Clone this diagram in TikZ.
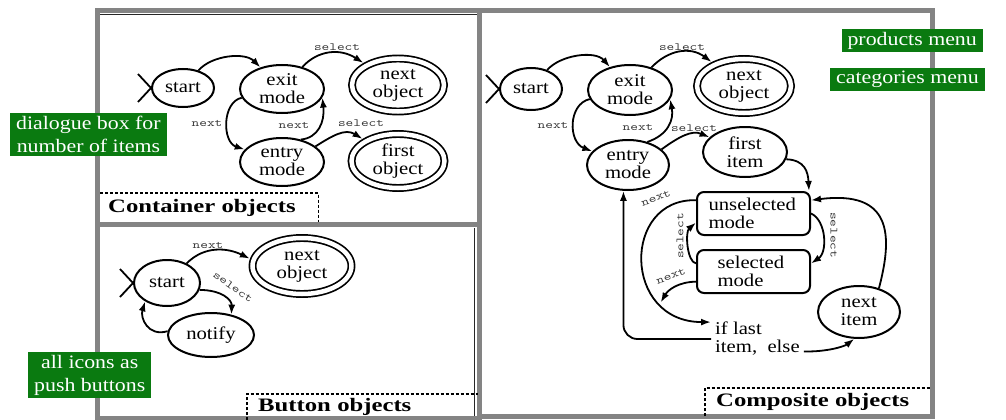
\documentclass[tikz,border=0pt]{standalone}
\usepackage{fontspec}
\usepackage{graphicx}
\setmainfont[FakeStretch=1.15]{Liberation Serif}
\newfontfamily\tagfont[FakeStretch=1.3]{Liberation Serif}
\usetikzlibrary{arrows.meta,shapes.geometric,backgrounds}

\definecolor{tagGreen}{RGB}{10,122,16}
\definecolor{frameGray}{RGB}{132,132,132}

% small typewriter transition labels, widened
\newcommand\edgelbl[1]{{\ttfamily\fontsize{11}{11}\selectfont\scalebox{1.35}[1]{#1}}}

\tikzset{
  every node/.style={font=\fontsize{18}{18}\selectfont},
  state/.style={ellipse, draw, line width=2pt, fill=white, inner sep=0pt, align=center},
  final/.style={ellipse, draw, line width=1.7pt, double, double distance=4.5pt,
                fill=white, inner sep=0pt, outer sep=4pt, align=center},
  modebox/.style={rectangle, rounded corners=7pt, draw, line width=2pt, fill=white,
                  inner sep=0pt, align=left},
  edge/.style={line width=1.8pt, -{Latex[length=10pt,width=7pt]}},
  lbl/.style={inner sep=0pt, text=black!80},
  frame/.style={draw=frameGray, line width=5pt},
  inner/.style={draw=black!85, line width=1.2pt},
  tag/.style={fill=tagGreen, text=white, inner xsep=6pt, inner ysep=3pt, align=center,
              font=\fontsize{19}{23}\selectfont},
  caption/.style={anchor=north west, inner ysep=0pt, align=left,
                  font=\tagfont\bfseries\fontsize{19}{19}\selectfont},
  capline/.style={line width=1.6pt, dash pattern=on 3pt off 2pt},
  xmark/.style={line width=1.8pt},
}

\begin{document}
\begin{tikzpicture}[x=1pt,y=-1pt]
\useasboundingbox (0,0) rectangle (1006,420);

% panel frames
\draw[frame] (97,10.5) rectangle (479.5,224.5);
\draw[frame] (97,224.5) rectangle (479.5,418.5);
\draw[frame] (479.5,10.5) rectangle (932.5,416);
\draw[inner] (100,14.5) -- (477,14.5);
\draw[inner] (474.5,228) -- (474.5,416);

% panel captions with dashed corners
\node[caption, text width=202pt, minimum height=29pt, inner xsep=8pt] (c-cap) at (100,193) {Container objects};
\draw[capline] (c-cap.north west) -- (c-cap.north east) -- (c-cap.south east);
\node[caption, text width=209pt, minimum height=26pt, inner xsep=11pt] (b-cap) at (247,394) {\raisebox{-2.5pt}{Button objects}};
\draw[capline] (b-cap.south west) -- (b-cap.north west) -- (b-cap.north east);
\node[caption, text width=203pt, minimum height=28pt, inner xsep=11pt] (m-cap) at (705,388) {\raisebox{3pt}{Composite objects}};
\draw[capline] (m-cap.south west) -- (m-cap.north west) -- (m-cap.north east);

% ---------- container objects ----------
\node[state, minimum width=62pt, minimum height=38pt] (c-start) at (183,88) {start};
\node[state, minimum width=84pt, minimum height=48pt] (c-exit) at (282,89) {exit\\mode};
\node[state, minimum width=84pt, minimum height=48pt] (c-entry) at (282,162) {entry\\mode};
\node[final, minimum width=92pt, minimum height=53pt] (c-next) at (398,85) {next\\object};
\node[final, minimum width=93pt, minimum height=54pt] (c-first) at (398,161) {first\\object};

\draw[edge] (c-start) .. controls (212,55) and (245,52) .. (c-exit);
\draw[edge] (c-exit) .. controls (318,50) and (340,48) .. (c-next);
\draw[edge] (c-exit) .. controls (222,102) and (222,142) .. (c-entry);
\draw[edge] (c-entry.50) .. controls (318,138) and (325,122) .. (c-exit.-12);
\draw[edge] (c-entry.25) .. controls (332,136) and (345,128) .. (c-first);

\node[lbl] (c-l1) at (337,47) {\edgelbl{select}};
\node[lbl] (c-l2) at (207,123) {\edgelbl{next}};
\node[lbl] (c-l3) at (294,125) {\edgelbl{next}};
\node[lbl] (c-l4) at (361,123) {\edgelbl{select}};

% ---------- button objects ----------
\node[state, minimum width=66pt, minimum height=46pt] (b-start) at (167,283) {start};
\node[final, minimum width=99pt, minimum height=56pt] (b-next) at (302,266) {next\\object};
\node[state, minimum width=86pt, minimum height=44pt] (b-notify) at (211,335) {notify};

\draw[edge] (b-start) .. controls (205,245) and (228,248) .. (b-next.172);
\draw[edge] (b-start.-12) .. controls (222,290) and (232,300) .. (b-notify.45);
\draw[edge] (b-notify.175) .. controls (148,337) and (140,318) .. (b-start.-140);

\node[lbl] (b-l1) at (208,245) {\edgelbl{next}};
\node[lbl, rotate=-35] (b-l2) at (233,287) {\edgelbl{select}};

% ---------- composite objects ----------
\node[state, minimum width=62pt, minimum height=42pt] (m-start) at (531,89) {start};
\node[state, minimum width=84pt, minimum height=50pt] (m-exit) at (630,90) {exit\\mode};
\node[final, minimum width=94pt, minimum height=54pt] (m-next) at (744,86) {next\\object};
\node[state, minimum width=82pt, minimum height=50pt] (m-entry) at (628,165) {entry\\mode};
\node[state, minimum width=84pt, minimum height=50pt] (m-first) at (745,152) {first\\item};
\node[modebox, minimum width=113pt, minimum height=43pt, text width=90pt] (m-unsel) at (753.5,213.5) {unselected\\mode};
\node[modebox, minimum width=113pt, minimum height=43pt, text width=72pt] (m-sel) at (753.5,271.5) {selected\\mode};
\node[state, minimum width=82pt, minimum height=52pt] (m-item) at (859,312) {next\\item};
\node[anchor=west, align=left, inner sep=4pt] (m-last) at (711,339) {if last\\item,~~else};
\coordinate (m-join) at (660.7,302.5);

\draw[edge] (m-start) .. controls (560,55) and (595,50) .. (m-exit);
\draw[edge] (m-exit) .. controls (668,50) and (690,46) .. (m-next);
\draw[edge] (m-exit) .. controls (568,104) and (568,142) .. (m-entry);
\draw[edge] (m-entry.50) .. controls (668,135) and (674,120) .. (m-exit.-13);
\draw[edge] (m-entry.25) .. controls (680,136) and (692,130) .. (m-first);
\draw[edge] (m-first.-10) .. controls (805,160) and (808,172) .. ([xshift=-2pt]m-unsel.north east);
\draw[edge] (m-unsel.east) .. controls (826,220) and (828,252) .. (m-sel.8);
\draw[edge] (m-sel.172) .. controls (687,262) and (685,232) .. (m-unsel.189);
\draw[edge] (m-unsel.167) .. controls (622,198) and (622,322) .. (m-last.160);
\draw[edge] (m-sel.190) .. controls (678,282) and (668,290) .. (m-join);
\draw[edge, rounded corners=14pt] (m-last.west) -| (m-entry.-100);
\draw[edge] (m-last.-15) .. controls (828,352) and (845,346) .. (m-item.-100);
\draw[edge] (m-item.50) .. controls (893,235) and (892,190) .. (m-unsel.13);

\node[lbl] (m-l1) at (682,47) {\edgelbl{select}};
\node[lbl] (m-l2) at (553,125) {\edgelbl{next}};
\node[lbl] (m-l3) at (638,127) {\edgelbl{next}};
\node[lbl] (m-l4) at (694,128) {\edgelbl{select}};
\node[lbl, rotate=20] (m-l5) at (656,198) {\edgelbl{next}};
\node[lbl, rotate=90] (m-l6) at (680,236) {\edgelbl{select}};
\node[lbl, rotate=-90] (m-l7) at (834,235) {\edgelbl{select}};
\node[lbl, rotate=20] (m-l8) at (671,276) {\edgelbl{next}};

% initial-state crosses, tucked behind the start states
\begin{pgfonlayer}{background}
  \foreach \s in {c-start,b-start,m-start}{
    \draw[xmark] ([shift={(-13,-14)}]\s.west) -- ([shift={(13,14)}]\s.west);
    \draw[xmark] ([shift={(-13,14)}]\s.west) -- ([shift={(13,-14)}]\s.west);
  }
\end{pgfonlayer}

% green annotation tags
\node[tag, anchor=north west] (t-dialog) at (10,113) {dialogue box for\\number of items};
\node[tag, anchor=north west] (t-icons) at (28,352) {all icons as\\push buttons};
\node[tag, anchor=north east] (t-prod) at (983,29) {products menu};
\node[tag, anchor=north east] (t-cat) at (985,68) {categories menu};
\end{tikzpicture}
\end{document}
